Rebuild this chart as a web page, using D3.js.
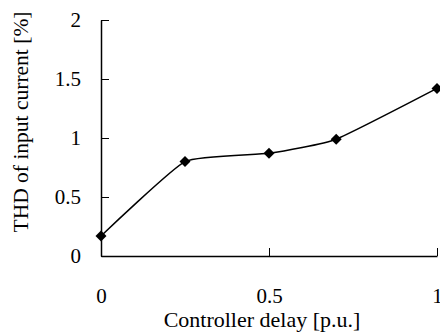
<!DOCTYPE html>
<html>
<head>
<meta charset="utf-8">
<script src="https://cdn.jsdelivr.net/npm/d3@7"></script>
<style>
  html, body { margin: 0; padding: 0; background: #fff; }
  svg { display: block; }
  text { font-family: "Liberation Serif", "Times New Roman", serif; fill: #000; }
</style>
</head>
<body>
<figure id="chart" style="margin:0"></figure>
<script>
// chart data
const delay = [0, 0.25, 0.5, 0.7, 1];
const thd = [0.17, 0.8, 0.87, 0.99, 1.42];
const xTicks = [0, 0.5, 1];
const yTicks = [0, 0.5, 1, 1.5, 2];

const width = 440;
const height = 333;
const serif = '"Liberation Serif", "Times New Roman", serif';

const svg = d3.select('figure#chart')
  .append('svg')
  .attr('width', width)
  .attr('height', height);

const x = d3.scaleLinear().domain([0, 1]).range([101, 437]);
const y = d3.scaleLinear().domain([0, 2]).range([256, 20]);

// y axis, ticks point inward
const yAxis = svg.append('g')
  .attr('transform', 'translate(' + x(0) + ',0)')
  .call(d3.axisLeft(y)
    .tickValues(yTicks)
    .tickSizeInner(-8)
    .tickSizeOuter(0)
    .tickPadding(20)
    .tickFormat(d => String(d)));

// x axis, ticks point up
const xAxis = svg.append('g')
  .attr('transform', 'translate(0,' + y(0) + ')')
  .call(d3.axisBottom(x)
    .tickValues(xTicks)
    .tickSizeInner(-8)
    .tickSizeOuter(0)
    .tickPadding(32)
    .tickFormat(d => String(d)));

[xAxis, yAxis].forEach(g => {
  g.attr('font-family', serif).attr('font-size', 21);
  g.selectAll('path.domain').attr('stroke', '#000').attr('stroke-width', 1.5);
  g.selectAll('.tick line').attr('stroke', '#000').attr('stroke-width', 1);
});
// no tick mark drawn at the origin of the x axis
xAxis.selectAll('.tick').filter(d => d === 0).select('line').remove();

// smoothed line
const line = d3.line()
  .x((d, i) => x(delay[i]))
  .y(d => y(d))
  .curve(d3.curveCardinal.tension(0.55));

svg.append('path')
  .datum(thd)
  .attr('d', line)
  .attr('fill', 'none')
  .attr('stroke', '#000')
  .attr('stroke-width', 1.5);

// diamond markers
const diamond = d3.symbol(d3.symbolSquare, 60);
svg.selectAll('path.marker')
  .data(thd)
  .enter()
  .append('path')
  .attr('class', 'marker')
  .attr('d', diamond)
  .attr('transform', (d, i) => 'translate(' + x(delay[i]) + ',' + y(d) + ') rotate(45)')
  .attr('fill', '#000');

// axis titles
svg.append('text')
  .text('Controller delay [p.u.]')
  .attr('x', 262)
  .attr('y', 327)
  .attr('font-family', serif)
  .attr('font-size', 22)
  .style('text-anchor', 'middle');

svg.append('text')
  .text('THD of input current [%]')
  .attr('transform', 'translate(28,122) rotate(-90)')
  .attr('font-family', serif)
  .attr('font-size', 21.5)
  .style('text-anchor', 'middle');
</script>
</body>
</html>
